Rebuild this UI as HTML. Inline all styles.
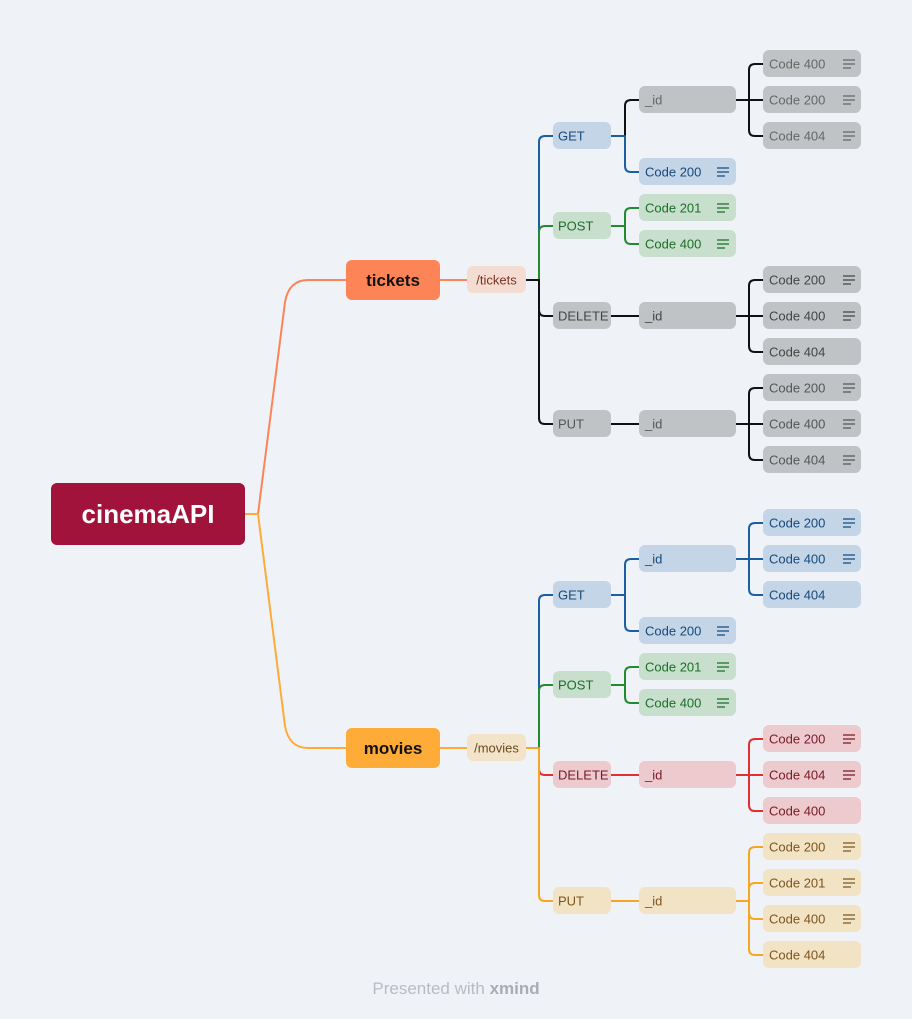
<!DOCTYPE html>
<html><head><meta charset="utf-8"><style>
html,body{margin:0;padding:0;background:#eff3f8;}
svg{display:block;font-family:"Liberation Sans",sans-serif;}
.l3,.l4,.l5{font-size:13px;}
</style></head><body>
<svg width="912" height="1019" viewBox="0 0 912 1019" xmlns="http://www.w3.org/2000/svg">
<rect width="912" height="1019" fill="#eff3f8"/>
<g fill="none" stroke-width="2" stroke-linecap="round">
<!-- main -->
<path d="M245,514H258L285,302Q289,280 308,280H346" stroke="#fc8456"/>
<path d="M245,514H258L285,726Q289,748 308,748H346" stroke="#ffab38"/>
<path d="M440,280H467" stroke="#fc8456"/>
<path d="M440,748H467" stroke="#ffab38"/>
<!-- tickets -->
<path d="M526,280H539" stroke="#111"/>
<path d="M539,280V142Q539,136 545,136H553" stroke="#1c5fa0"/>
<path d="M539,280V232Q539,226 545,226H553" stroke="#228a2f"/>
<path d="M539,280V310Q539,316 545,316H553" stroke="#111"/>
<path d="M539,280V418Q539,424 545,424H553" stroke="#111"/>
<path d="M611,136H625" stroke="#1c5fa0"/>
<path d="M625,136V106Q625,100 631,100H639" stroke="#111"/>
<path d="M625,136V166Q625,172 631,172H639" stroke="#1c5fa0"/>
<path d="M611,226H625M625,226V214Q625,208 631,208H639M625,226V238Q625,244 631,244H639" stroke="#228a2f"/>
<path d="M611,316H639M611,424H639" stroke="#111"/>
<path d="M736,100H763M749,100V70Q749,64 755,64H763M749,100V130Q749,136 755,136H763" stroke="#111"/>
<path d="M736,316H763M749,316V286Q749,280 755,280H763M749,316V346Q749,352 755,352H763" stroke="#111"/>
<path d="M736,424H763M749,424V394Q749,388 755,388H763M749,424V454Q749,460 755,460H763" stroke="#111"/>
<!-- movies -->
<path d="M526,748H539" stroke="#f5a623"/>
<path d="M539,748V601Q539,595 545,595H553" stroke="#1c5fa0"/>
<path d="M539,748V691Q539,685 545,685H553" stroke="#228a2f"/>
<path d="M539,748V769Q539,775 545,775H553" stroke="#e03030"/>
<path d="M539,748V895Q539,901 545,901H553" stroke="#f5a623"/>
<path d="M611,595H625M625,595V565Q625,559 631,559H639M625,595V625Q625,631 631,631H639" stroke="#1c5fa0"/>
<path d="M611,685H625M625,685V673Q625,667 631,667H639M625,685V697Q625,703 631,703H639" stroke="#228a2f"/>
<path d="M611,775H639" stroke="#e03030"/>
<path d="M611,901H639" stroke="#f5a623"/>
<path d="M736,559H763M749,559V529Q749,523 755,523H763M749,559V589Q749,595 755,595H763" stroke="#1c5fa0"/>
<path d="M736,775H763M749,775V745Q749,739 755,739H763M749,775V805Q749,811 755,811H763" stroke="#e03030"/>
<path d="M736,901H749M749,901V853Q749,847 755,847H763M749,901V889Q749,883 755,883H763M749,901V913Q749,919 755,919H763M749,901V949Q749,955 755,955H763" stroke="#f5a623"/>
</g>

<!-- root & level1/2 -->
<rect x="51" y="483" width="194" height="62" rx="6" fill="#a2133b"/>
<text x="148" y="523" text-anchor="middle" font-size="26" font-weight="bold" fill="#fff">cinemaAPI</text>
<rect x="346" y="260" width="94" height="40" rx="6" fill="#fc8456"/>
<text x="393" y="286" text-anchor="middle" font-size="17" font-weight="bold" fill="#111">tickets</text>
<rect x="346" y="728" width="94" height="40" rx="6" fill="#ffab38"/>
<text x="393" y="754" text-anchor="middle" font-size="17" font-weight="bold" fill="#111">movies</text>
<rect x="467" y="266" width="59" height="27" rx="6" fill="#f5dcd3"/>
<text x="496.5" y="284.5" text-anchor="middle" font-size="13" fill="#7a3320">/tickets</text>
<rect x="467" y="734" width="59" height="27" rx="6" fill="#f3e3c9"/>
<text x="496.5" y="752.5" text-anchor="middle" font-size="13" fill="#6b4a1e">/movies</text>

<!-- level 3 -->
<g class="l3">
<rect x="553" y="122" width="58" height="27" rx="6" fill="#c3d5e6"/><text x="558" y="140.5" fill="#174a7c">GET</text>
<rect x="553" y="212" width="58" height="27" rx="6" fill="#c7dfcc"/><text x="558" y="230.5" fill="#1d6e2a">POST</text>
<rect x="553" y="302" width="58" height="27" rx="6" fill="#c0c3c6"/><text x="558" y="320.5" fill="#444">DELETE</text>
<rect x="553" y="410" width="58" height="27" rx="6" fill="#c0c3c6"/><text x="558" y="428.5" fill="#555">PUT</text>
<rect x="553" y="581" width="58" height="27" rx="6" fill="#c3d5e6"/><text x="558" y="599.5" fill="#174a7c">GET</text>
<rect x="553" y="671" width="58" height="27" rx="6" fill="#c7dfcc"/><text x="558" y="689.5" fill="#1d6e2a">POST</text>
<rect x="553" y="761" width="58" height="27" rx="6" fill="#eccace"/><text x="558" y="779.5" fill="#7a1a26">DELETE</text>
<rect x="553" y="887" width="58" height="27" rx="6" fill="#f3e3c5"/><text x="558" y="905.5" fill="#7a5520">PUT</text>
</g>

<!-- level 4 -->
<g class="l4">
<rect x="639" y="86" width="97" height="27" rx="6" fill="#c0c3c6"/><text x="645" y="104.5" fill="#666">_id</text>
<rect x="639" y="158" width="97" height="27" rx="6" fill="#c3d5e6"/><text x="645" y="176.5" fill="#174a7c">Code 200</text>
<rect x="639" y="194" width="97" height="27" rx="6" fill="#c7dfcc"/><text x="645" y="212.5" fill="#1d6e2a">Code 201</text>
<rect x="639" y="230" width="97" height="27" rx="6" fill="#c7dfcc"/><text x="645" y="248.5" fill="#1d6e2a">Code 400</text>
<rect x="639" y="302" width="97" height="27" rx="6" fill="#c0c3c6"/><text x="645" y="320.5" fill="#444">_id</text>
<rect x="639" y="410" width="97" height="27" rx="6" fill="#c0c3c6"/><text x="645" y="428.5" fill="#555">_id</text>
<rect x="639" y="545" width="97" height="27" rx="6" fill="#c3d5e6"/><text x="645" y="563.5" fill="#174a7c">_id</text>
<rect x="639" y="617" width="97" height="27" rx="6" fill="#c3d5e6"/><text x="645" y="635.5" fill="#174a7c">Code 200</text>
<rect x="639" y="653" width="97" height="27" rx="6" fill="#c7dfcc"/><text x="645" y="671.5" fill="#1d6e2a">Code 201</text>
<rect x="639" y="689" width="97" height="27" rx="6" fill="#c7dfcc"/><text x="645" y="707.5" fill="#1d6e2a">Code 400</text>
<rect x="639" y="761" width="97" height="27" rx="6" fill="#eccace"/><text x="645" y="779.5" fill="#7a1a26">_id</text>
<rect x="639" y="887" width="97" height="27" rx="6" fill="#f3e3c5"/><text x="645" y="905.5" fill="#7a5520">_id</text>
</g>
<g fill="none" stroke-width="1.3">
<path d="M717,168h12M717,172h12M717,176h8" stroke="#174a7c"/>
<path d="M717,204h12M717,208h12M717,212h8M717,240h12M717,244h12M717,248h8" stroke="#1d6e2a"/>
<path d="M717,627h12M717,631h12M717,635h8" stroke="#174a7c"/>
<path d="M717,663h12M717,667h12M717,671h8M717,699h12M717,703h12M717,707h8" stroke="#1d6e2a"/>
</g>

<!-- level 5 -->
<g class="l5">
<rect x="763" y="50" width="98" height="27" rx="6" fill="#c0c3c6"/><text x="769" y="68.5" fill="#666">Code 400</text>
<rect x="763" y="86" width="98" height="27" rx="6" fill="#c0c3c6"/><text x="769" y="104.5" fill="#666">Code 200</text>
<rect x="763" y="122" width="98" height="27" rx="6" fill="#c0c3c6"/><text x="769" y="140.5" fill="#666">Code 404</text>
<rect x="763" y="266" width="98" height="27" rx="6" fill="#c0c3c6"/><text x="769" y="284.5" fill="#444">Code 200</text>
<rect x="763" y="302" width="98" height="27" rx="6" fill="#c0c3c6"/><text x="769" y="320.5" fill="#444">Code 400</text>
<rect x="763" y="338" width="98" height="27" rx="6" fill="#c0c3c6"/><text x="769" y="356.5" fill="#444">Code 404</text>
<rect x="763" y="374" width="98" height="27" rx="6" fill="#c0c3c6"/><text x="769" y="392.5" fill="#555">Code 200</text>
<rect x="763" y="410" width="98" height="27" rx="6" fill="#c0c3c6"/><text x="769" y="428.5" fill="#555">Code 400</text>
<rect x="763" y="446" width="98" height="27" rx="6" fill="#c0c3c6"/><text x="769" y="464.5" fill="#555">Code 404</text>
<rect x="763" y="509" width="98" height="27" rx="6" fill="#c3d5e6"/><text x="769" y="527.5" fill="#174a7c">Code 200</text>
<rect x="763" y="545" width="98" height="27" rx="6" fill="#c3d5e6"/><text x="769" y="563.5" fill="#174a7c">Code 400</text>
<rect x="763" y="581" width="98" height="27" rx="6" fill="#c3d5e6"/><text x="769" y="599.5" fill="#174a7c">Code 404</text>
<rect x="763" y="725" width="98" height="27" rx="6" fill="#eccace"/><text x="769" y="743.5" fill="#7a1a26">Code 200</text>
<rect x="763" y="761" width="98" height="27" rx="6" fill="#eccace"/><text x="769" y="779.5" fill="#7a1a26">Code 404</text>
<rect x="763" y="797" width="98" height="27" rx="6" fill="#eccace"/><text x="769" y="815.5" fill="#7a1a26">Code 400</text>
<rect x="763" y="833" width="98" height="27" rx="6" fill="#f3e3c5"/><text x="769" y="851.5" fill="#7a5520">Code 200</text>
<rect x="763" y="869" width="98" height="27" rx="6" fill="#f3e3c5"/><text x="769" y="887.5" fill="#7a5520">Code 201</text>
<rect x="763" y="905" width="98" height="27" rx="6" fill="#f3e3c5"/><text x="769" y="923.5" fill="#7a5520">Code 400</text>
<rect x="763" y="941" width="98" height="27" rx="6" fill="#f3e3c5"/><text x="769" y="959.5" fill="#7a5520">Code 404</text>
</g>
<g fill="none" stroke-width="1.3">
<path d="M843,60h12M843,64h12M843,68h8M843,96h12M843,100h12M843,104h8M843,132h12M843,136h12M843,140h8" stroke="#666"/>
<path d="M843,276h12M843,280h12M843,284h8M843,312h12M843,316h12M843,320h8" stroke="#444"/>
<path d="M843,384h12M843,388h12M843,392h8M843,420h12M843,424h12M843,428h8M843,456h12M843,460h12M843,464h8" stroke="#555"/>
<path d="M843,519h12M843,523h12M843,527h8M843,555h12M843,559h12M843,563h8" stroke="#174a7c"/>
<path d="M843,735h12M843,739h12M843,743h8M843,771h12M843,775h12M843,779h8" stroke="#7a1a26"/>
<path d="M843,843h12M843,847h12M843,851h8M843,879h12M843,883h12M843,887h8M843,915h12M843,919h12M843,923h8" stroke="#7a5520"/>
</g>

<text x="456" y="994" text-anchor="middle" font-size="17" fill="#b8bcc2">Presented with <tspan font-weight="bold" fill="#a9adb3">xmind</tspan></text>
</svg>
</body></html>
